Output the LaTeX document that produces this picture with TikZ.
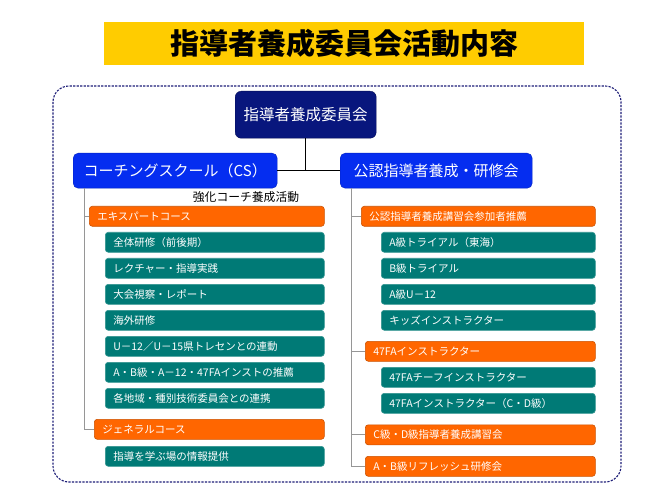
\documentclass[tikz,border=0pt]{standalone}
\usepackage{fontspec}
\newfontfamily\jp{Noto Sans CJK JP}
\definecolor{banner}{RGB}{255,204,0}
\definecolor{navy}{RGB}{8,22,125}
\definecolor{blueA}{RGB}{5,45,240}
\definecolor{orng}{RGB}{255,102,0}
\definecolor{tealA}{RGB}{0,122,118}
\definecolor{frameC}{RGB}{30,30,120}
\definecolor{lgray}{RGB}{150,150,150}
\begin{document}
\begin{tikzpicture}[x=1pt,y=-1pt,
  item/.style={anchor=north west, rounded corners=3pt, minimum height=20pt, inner xsep=8pt, inner ysep=0pt, align=left, text=white, font=\jp\fontsize{10.5}{12}\selectfont},
  tealbox/.style={item, fill=tealA, draw=tealA!80!white, line width=0.6pt},
  orbox/.style={item, fill=orng, draw=orng!80!black, line width=0.6pt},
  head/.style={anchor=north west, rounded corners=5pt, text=white, font=\jp\fontsize{15}{18}\selectfont, align=center, inner sep=0pt},
  tree/.style={draw=lgray, line width=1pt},
  link/.style={draw=black, line width=1.5pt},
]
\path[use as bounding box, fill=white] (0,0) rectangle (658,494);

\node[anchor=north west, fill=banner, minimum width=480pt, minimum height=43pt, inner sep=0pt, font=\jp\bfseries\fontsize{29}{34}\selectfont] (title) at (104,22) {指導者養成委員会活動内容};

\draw[frameC, line width=1.1pt, dash pattern=on 2.2pt off 1.3pt, rounded corners=16pt] (53,86) rectangle (621,482);

\node[head, fill=navy, draw=navy!70!black, minimum width=141pt, minimum height=47pt, rounded corners=6pt, font=\jp\fontsize{15.5}{18}\selectfont] (top) at (235,91) {指導者養成委員会};
\node[head, fill=blueA, draw=blueA!80!black, minimum width=204pt, minimum height=35pt] (cs) at (73,153) {コーチングスクール（CS）};
\node[head, fill=blueA, draw=blueA!80!black, minimum width=192pt, minimum height=35pt] (kn) at (340,153) {公認指導者養成・研修会};

\draw[link] (top.south) -- (top.south |- cs.east);
\draw[link] (cs.east) -- (kn.west);

\node[font=\jp\fontsize{11.8}{13}\selectfont, inner sep=0pt] (lbl) at (246,196.7) {強化コーチ養成活動};

% left column
\node[orbox, text width=219pt] (exp) at (89,206) {エキスパートコース};
\node[tealbox, text width=203pt] (l1) at (105,232) {全体研修（前後期）};
\node[tealbox, text width=203pt] (l2) at (105,258) {レクチャー・指導実践};
\node[tealbox, text width=203pt] (l3) at (105,284) {大会視察・レポート};
\node[tealbox, text width=203pt] (l4) at (105,310) {海外研修};
\node[tealbox, text width=203pt] (l5) at (105,336) {U－12／U－15県トレセンとの連動};
\node[tealbox, text width=203pt] (l6) at (105,362) {A・B級・A－12・47FAインストの推薦};
\node[tealbox, text width=203pt] (l7) at (105,388) {各地域・種別技術委員会との連携};
\node[orbox, text width=214pt] (gen) at (94,419) {ジェネラルコース};
\node[tealbox, text width=203pt] (l8) at (105,446) {指導を学ぶ場の情報提供};

\coordinate (lv) at ([xshift=11pt]cs.south west);
\draw[tree] (lv) |- (gen.west);
\draw[tree] (lv |- exp.west) -- (exp.west);

% right column
\node[orbox, text width=218pt] (r0) at (361,206) {公認指導者養成講習会参加者推薦};
\node[tealbox, text width=198pt] (r1) at (381,232) {A級トライアル（東海）};
\node[tealbox, text width=198pt] (r2) at (381,258) {B級トライアル};
\node[tealbox, text width=198pt] (r3) at (381,284) {A級U－12};
\node[tealbox, text width=198pt] (r4) at (381,310) {キッズインストラクター};
\node[orbox, text width=214pt] (fa) at (365,341) {47FAインストラクター};
\node[tealbox, text width=198pt] (r5) at (381,367) {47FAチーフインストラクター};
\node[tealbox, text width=198pt] (r6) at (381,393) {47FAインストラクター（C・D級）};
\node[orbox, text width=214pt] (cd) at (365,424.5) {C級・D級指導者養成講習会};
\node[orbox, text width=214pt] (ab) at (365,456) {A・B級リフレッシュ研修会};

\coordinate (rv) at ([xshift=11pt]kn.south west);
\draw[tree] (rv) |- (ab.west);
\draw[tree] (rv |- r0.west) -- (r0.west);
\draw[tree] (rv |- fa.west) -- (fa.west);
\draw[tree] (rv |- cd.west) -- (cd.west);
\end{tikzpicture}
\end{document}
